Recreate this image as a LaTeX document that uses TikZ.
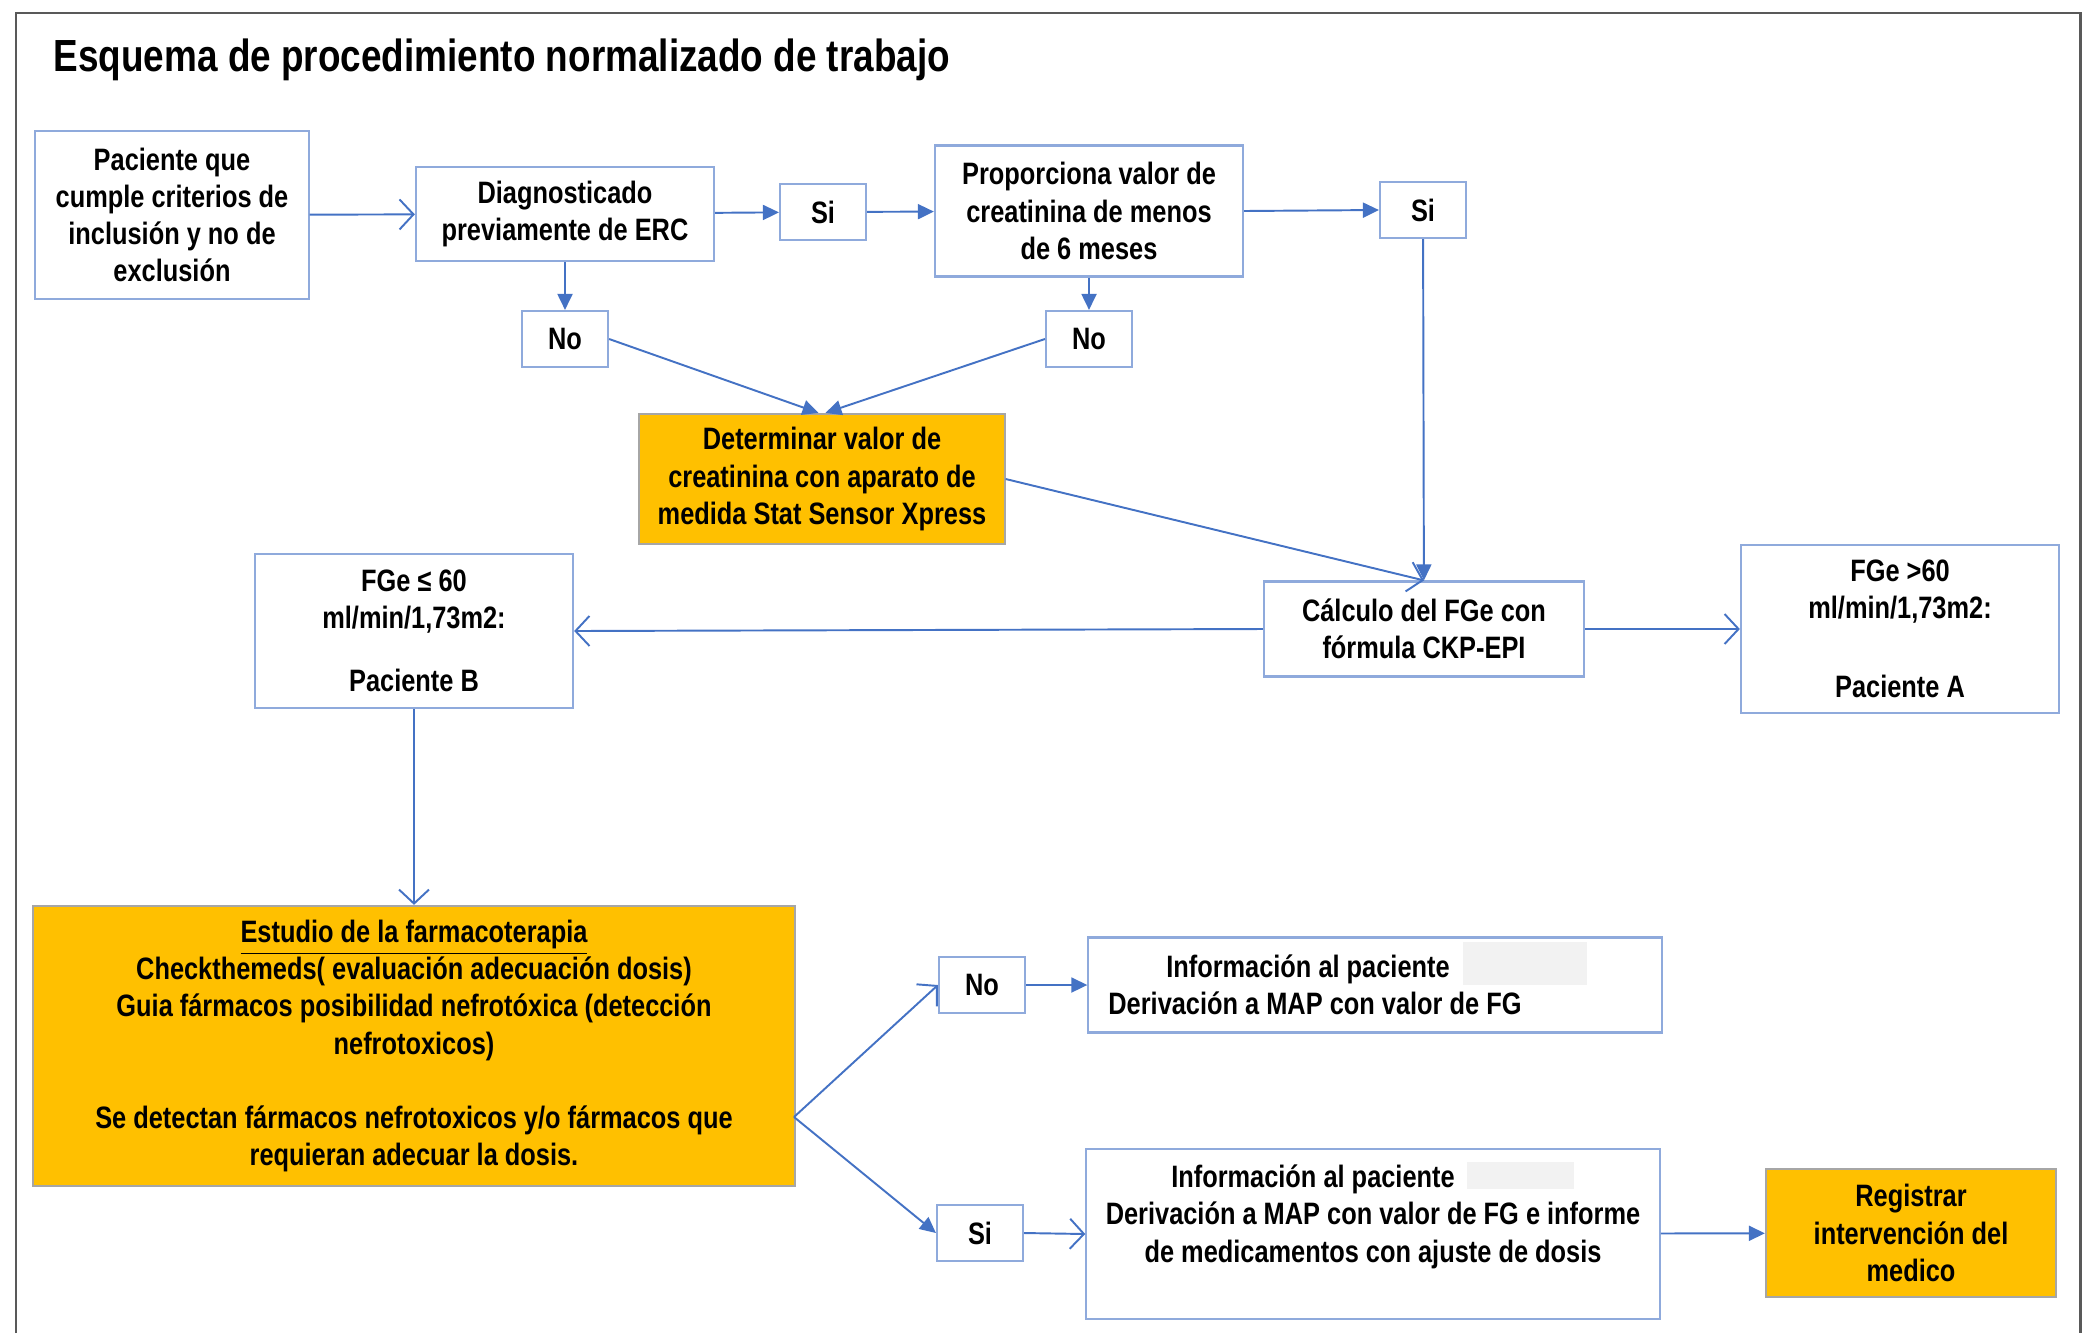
\documentclass[tikz,border=0pt]{standalone}
\usepackage{fontspec}
\setmainfont{Liberation Sans}[FakeStretch=0.82]
\usetikzlibrary{arrows.meta}

\definecolor{linkblue}{RGB}{68,114,196}
\definecolor{boxblue}{RGB}{143,170,220}
\definecolor{stepgold}{RGB}{255,192,0}
\definecolor{framegray}{RGB}{89,89,89}
\definecolor{maskgray}{RGB}{242,242,242}

\tikzset{
  box/.style={draw=boxblue, line width=0.6pt, fill=white, align=center, inner sep=0pt,
    font=\fontsize{8.8}{10.6}\selectfont\bfseries},
  goldbox/.style={box, draw=black!35, fill=stepgold},
  answer/.style={box, minimum width=0.86cm, minimum height=0.56cm},
  link/.style={draw=linkblue, line width=0.55pt, -{Triangle[length=1.6mm,width=1.5mm]}},
  openlink/.style={draw=linkblue, line width=0.55pt, -{Straight Barb[length=1.4mm,width=3mm]}},
}

\begin{document}
\begin{tikzpicture}[x=0.01cm, y=-0.01cm]
    \useasboundingbox (0,0) rectangle (2095,1333);
    \draw[framegray, line width=0.85pt] (16,1333) -- (16,13) -- (2080,13) -- (2080,1333);

    \node[anchor=west, inner sep=0pt, font=\fontsize{12.8}{15}\selectfont\bfseries] (title) at (53,60) {Esquema de procedimiento normalizado de trabajo};

    % top row
    \node[box, minimum width=2.73cm, minimum height=1.68cm] (paciente) at (172,215) {Paciente que\\cumple criterios de\\inclusión y no de\\exclusión};
    \node[box, minimum width=2.98cm, minimum height=0.94cm] (diag) at (565,214) {Diagnosticado\\previamente de ERC};
    \node[answer] (si1) at (823,212) {Si};
    \node[box, minimum width=3.08cm, minimum height=1.31cm] (prop) at (1089,211) {Proporciona valor de\\creatinina de menos\\de 6 meses};
    \node[answer] (si2) at (1423,210) {Si};

    \node[answer] (no1) at (565,339) {No};
    \node[answer] (no2) at (1089,339) {No};

    \node[goldbox, minimum width=3.65cm, minimum height=1.30cm] (det) at (822,479) {Determinar valor de\\creatinina con aparato de\\medida Stat Sensor Xpress};

    % middle row
    \node[box, minimum width=3.18cm, minimum height=1.54cm] (fgeb) at (414,631) {FGe ≤ 60\\ml/min/1,73m2:\\[2.6mm]Paciente B};
    \node[box, minimum width=3.20cm, minimum height=0.95cm] (calc) at (1424,629) {Cálculo del FGe con\\fórmula CKP-EPI};
    \node[box, minimum width=3.18cm, minimum height=1.68cm] (fgea) at (1900,629) {FGe >60\\ml/min/1,73m2:\\[4.2mm]Paciente A};

    % bottom part
    \node[goldbox, minimum width=7.61cm, minimum height=2.80cm] (estudio) at (414,1046) {\underline{Estudio de la farmacoterapia}\\Checkthemeds( evaluación adecuación dosis)\\Guia fármacos posibilidad nefrotóxica (detección\\nefrotoxicos)\\[3.7mm]Se detectan fármacos nefrotoxicos y/o fármacos que\\requieran adecuar la dosis.};
    \coordinate (fork) at (794,1117);

    \node[answer] (no3) at (982,985) {No};
    \node[answer] (si3) at (980,1233) {Si};

    \node[box, minimum width=5.73cm, minimum height=0.95cm] (info1) at (1375,985) {Información al paciente\hspace*{1.34cm}\\Derivación a MAP con valor de FG\hspace*{1.2cm}};
    \node[box, minimum width=5.73cm, minimum height=1.70cm] (info2) at (1373,1234) {Información al paciente\hspace*{1.2cm}\\Derivación a MAP con valor de FG e informe\\de medicamentos con ajuste de dosis\\[0.4mm]\mbox{}};
    \node[goldbox, minimum width=2.90cm, minimum height=1.28cm] (reg) at (1911,1233) {Registrar\\intervención del\\medico};

    % masked parts
    \fill[maskgray] (1463,942) rectangle (1587,985);
    \fill[maskgray] (1467,1162) rectangle (1574,1189);

    % connectors
    \draw[openlink] (paciente) -- (diag);
    \draw[link] (diag) -- (si1);
    \draw[link] (si1) -- (prop);
    \draw[link] (prop.east) -- (si2.west);
    \draw[link] (diag) -- (no1);
    \draw[link] (prop) -- (no2);
    \draw[link] (no1.east) -- (det.93);
    \draw[link] (no2.west) -- (det.87);
    \draw[link] (si2) -- (calc);
    \draw[openlink] (det.east) -- (calc.north);
    \draw[openlink] (calc.west) -- (fgeb.east);
    \draw[openlink] (calc.east) -- (fgea.west);
    \draw[openlink] (fgeb) -- (estudio);
    \draw[openlink] (fork) -- (no3.west);
    \draw[link] (fork) -- (si3.west);
    \draw[link] (no3) -- (info1);
    \draw[openlink] (si3.east) -- (info2.west);
    \draw[link] (info2) -- (reg);
\end{tikzpicture}
\end{document}
